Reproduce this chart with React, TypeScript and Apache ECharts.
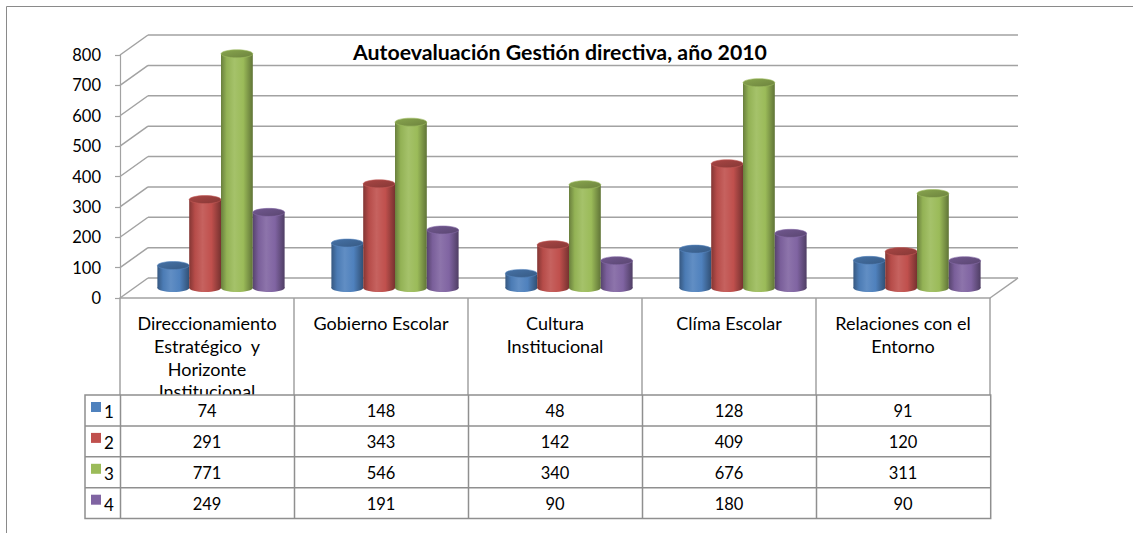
import React, { useEffect, useRef } from "react";
import * as echarts from "echarts";

const title = "Autoevaluación Gestión directiva, año 2010";
const categories = [
  "Direccionamiento\nEstratégico  y\nHorizonte\nInstitucional",
  "Gobierno Escolar",
  "Cultura\nInstitucional",
  "Clíma Escolar",
  "Relaciones con el\nEntorno",
];
const seriesNames = ["1", "2", "3", "4"];
const series1 = [74, 148, 48, 128, 91];
const series2 = [291, 343, 142, 409, 120];
const series3 = [771, 546, 340, 676, 311];
const series4 = [249, 191, 90, 180, 90];
const yTicks = [0, 100, 200, 300, 400, 500, 600, 700, 800];
const colors = ["#4F81BD", "#C0504D", "#9BBB59", "#8064A2"];

const allSeries = [series1, series2, series3, series4];

// layout
const W = 1133;
const H = 533;
const GRID_LEFT = 120;
const GRID_TOP = 55;
const GRID_W = 870;
const GRID_H = 243;
const DX = 28;
const DY = -20;
const TABLE_LEFT = 85;
const TABLE_TOP = 395;
const ROW_H = 30.9;
const FONT = "Lato";
const GRID_COLOR = "#a2a2a2";
const TABLE_COLOR = "#8f8f8f";

function shade(hex: string, f: number): string {
  const n = parseInt(hex.slice(1), 16);
  let r = n >> 16;
  let g = (n >> 8) & 255;
  let b = n & 255;
  const t = f < 0 ? 0 : 255;
  const p = Math.abs(f);
  r = Math.round((t - r) * p + r);
  g = Math.round((t - g) * p + g);
  b = Math.round((t - b) * p + b);
  return `rgb(${r},${g},${b})`;
}

function cylinderRenderer(sIdx: number) {
  return (params: any, api: any) => {
    const ci = api.value(0);
    const v = api.value(1);
    const catW = api.size([1, 0])[0];
    const base = api.coord([ci, 0]);
    const top = api.coord([ci, v]);
    const bw = catW * 0.1828;
    const rx = bw / 2;
    const ry = 4;
    const cx = base[0] + DX / 2 + (sIdx - 1.5) * bw;
    const yb = base[1] + DY / 2;
    const yt = top[1] + DY / 2;
    const c = colors[sIdx];
    const bodyFill = new echarts.graphic.LinearGradient(0, 0, 1, 0, [
      { offset: 0, color: shade(c, -0.32) },
      { offset: 0.18, color: shade(c, -0.05) },
      { offset: 0.42, color: shade(c, 0.1) },
      { offset: 0.7, color: shade(c, 0.0) },
      { offset: 1, color: shade(c, -0.38) },
    ]);
    const topFill = new echarts.graphic.LinearGradient(0, 0, 1, 1, [
      { offset: 0, color: shade(c, -0.12) },
      { offset: 1, color: shade(c, -0.3) },
    ]);
    return {
      type: "group",
      children: [
        {
          type: "rect",
          shape: { x: cx - rx, y: yt, width: bw, height: Math.max(0, yb - yt) },
          style: { fill: bodyFill },
        },
        {
          type: "ellipse",
          shape: { cx, cy: yb, rx, ry },
          style: { fill: bodyFill },
        },
        {
          type: "ellipse",
          shape: { cx, cy: yt, rx, ry },
          style: { fill: topFill, stroke: shade(c, 0.05), lineWidth: 0.6 },
        },
      ],
    };
  };
}

function wallRenderer(params: any, api: any) {
  const v = api.value(1);
  const cs = params.coordSys;
  const x0 = cs.x;
  const x1 = cs.x + cs.width;
  const y = api.coord([0, v])[1];
  const style = { stroke: GRID_COLOR, lineWidth: 1.5 };
  const children: any[] = [
    { type: "line", shape: { x1: x0, y1: y, x2: x0 + DX, y2: y + DY }, style },
    { type: "line", shape: { x1: x0 + DX, y1: y + DY, x2: x1 + DX, y2: y + DY }, style },
  ];
  if (v === 0) {
    children.push({ type: "line", shape: { x1: x1, y1: y, x2: x1 + DX, y2: y + DY }, style });
  }
  return { type: "group", children };
}

function buildTable(): any[] {
  const els: any[] = [];
  const catW = GRID_W / categories.length;
  const right = GRID_LEFT + GRID_W + 0.7;
  const nRows = seriesNames.length;
  const bottom = TABLE_TOP + ROW_H * nRows;
  els.push({
    type: "rect",
    shape: { x: TABLE_LEFT, y: TABLE_TOP, width: right - TABLE_LEFT, height: bottom - TABLE_TOP },
    style: { fill: "#ffffff", stroke: TABLE_COLOR, lineWidth: 1.5 },
    z: 100,
  });
  for (let r = 1; r < nRows; r++) {
    const y = TABLE_TOP + ROW_H * r;
    els.push({
      type: "line",
      shape: { x1: TABLE_LEFT, y1: y, x2: right, y2: y },
      style: { stroke: TABLE_COLOR, lineWidth: 1.5 },
      z: 101,
    });
  }
  for (let c = 0; c < categories.length; c++) {
    const x = GRID_LEFT + c * catW + 0.5;
    els.push({
      type: "line",
      shape: { x1: x, y1: TABLE_TOP, x2: x, y2: bottom },
      style: { stroke: TABLE_COLOR, lineWidth: 1.5 },
      z: 101,
    });
  }
  for (let r = 0; r < nRows; r++) {
    const yc = TABLE_TOP + ROW_H * r + ROW_H / 2;
    els.push({
      type: "rect",
      shape: { x: 91, y: TABLE_TOP + ROW_H * r + 7, width: 10, height: 10 },
      style: { fill: colors[r] },
      z: 102,
    });
    els.push({
      type: "text",
      style: {
        text: seriesNames[r],
        x: 104,
        y: yc + 1,
        fontSize: 17,
        fontFamily: FONT,
        fill: "#000",
        align: "left",
        verticalAlign: "middle",
      },
      z: 102,
    });
    const vals = allSeries[r];
    for (let c = 0; c < vals.length; c++) {
      els.push({
        type: "text",
        style: {
          text: String(vals[c]),
          x: GRID_LEFT + catW * (c + 0.5),
          y: yc + 1,
          fontSize: 16.5,
          fontFamily: FONT,
          fill: "#000",
          align: "center",
          verticalAlign: "middle",
        },
        z: 102,
      });
    }
  }
  return els;
}

export default function App() {
  const ref = useRef<HTMLDivElement>(null);
  useEffect(() => {
    document.body.style.margin = "0";
    if (!ref.current) return;
    const chart = echarts.init(ref.current, undefined, { renderer: "svg" });
    const option: any = {
      animation: false,
      backgroundColor: "#ffffff",
      grid: { left: GRID_LEFT, top: GRID_TOP, width: GRID_W, height: GRID_H, containLabel: false },
      xAxis: {
        type: "category",
        data: categories,
        axisLine: { show: true, lineStyle: { color: GRID_COLOR, width: 1.5 } },
        axisTick: { show: true, length: 97, interval: 0, lineStyle: { color: GRID_COLOR, width: 1.5 } },
        axisLabel: {
          interval: 0,
          margin: 14,
          fontSize: 18,
          fontFamily: FONT,
          color: "#000",
          lineHeight: 22.7,
          align: "center",
        },
        splitLine: { show: false },
      },
      yAxis: {
        type: "value",
        min: 0,
        max: 800,
        interval: 100,
        axisLine: { show: true, lineStyle: { color: GRID_COLOR, width: 1.2 } },
        axisTick: { show: true, length: 5, lineStyle: { color: GRID_COLOR, width: 1.2 } },
        axisLabel: {
          fontSize: 16.5,
          fontFamily: FONT,
          color: "#000",
          margin: 19,
          padding: [5, 0, 0, 0],
        },
        splitLine: { show: false },
      },
      graphic: [
        {
          type: "line",
          shape: { x1: 6.5, y1: 6.5, x2: W, y2: 6.5 },
          style: { stroke: "#8a8a8a", lineWidth: 1 },
        },
        {
          type: "line",
          shape: { x1: 6.5, y1: 6.5, x2: 6.5, y2: H },
          style: { stroke: "#8a8a8a", lineWidth: 1 },
        },
        {
          type: "text",
          style: {
            text: title,
            x: 560,
            y: 52,
            fontSize: 21.3,
            fontWeight: "bold",
            fontFamily: FONT,
            fill: "#000",
            align: "center",
            verticalAlign: "middle",
          },
          z: 50,
        },
        ...buildTable(),
      ],
      series: [
        {
          type: "custom",
          name: "wall",
          renderItem: wallRenderer,
          data: yTicks.map((v) => [0, v]),
          clip: false,
          silent: true,
          z: 1,
        },
        ...allSeries.map((vals, s) => ({
          type: "custom",
          name: seriesNames[s],
          renderItem: cylinderRenderer(s),
          data: vals.map((v, i) => [i, v]),
          clip: false,
          z: 3,
        })),
      ],
    };
    chart.setOption(option);
    return () => chart.dispose();
  }, []);
  return <div ref={ref} style={{ width: W, height: H }} />;
}
